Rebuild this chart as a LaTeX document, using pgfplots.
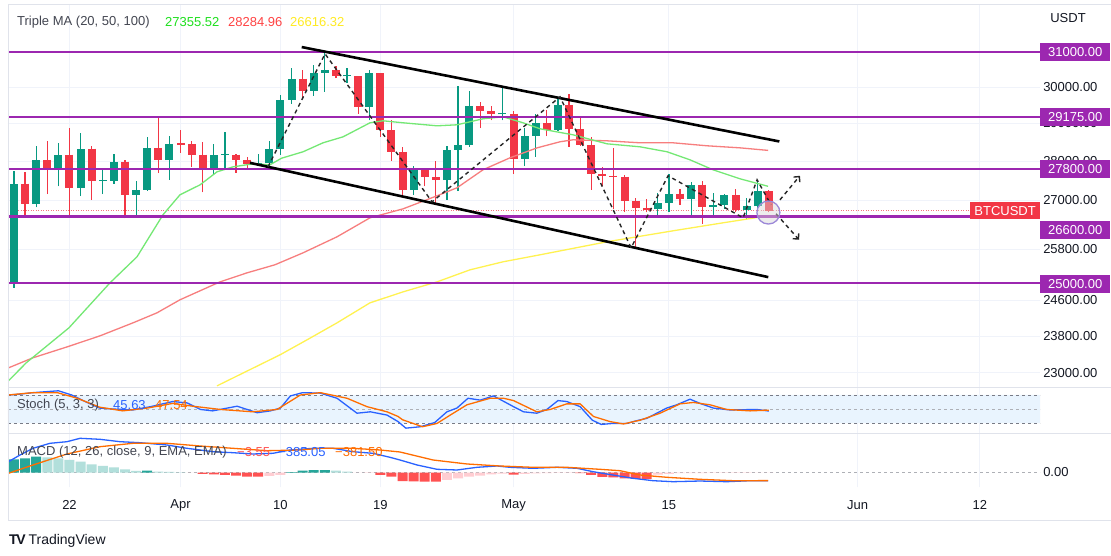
\documentclass[border=0pt]{standalone}
\usepackage{fontspec}
\setmainfont{Liberation Sans}
\usepackage{pgfplots}
\usepackage{pgfplotstable}
\pgfplotsset{compat=1.18}
\usetikzlibrary{arrows.meta}

\definecolor{bull}{HTML}{089981}
\definecolor{bear}{HTML}{F23645}
\definecolor{lvl}{HTML}{9C27B0}
\definecolor{gridc}{HTML}{F0F3FA}
\definecolor{framec}{HTML}{E0E3EB}
\definecolor{tickc}{HTML}{131722}
\definecolor{titlec}{HTML}{434651}
\definecolor{maG}{HTML}{74E874}
\definecolor{maR}{HTML}{F77E7E}
\definecolor{maY}{HTML}{FFF250}
\definecolor{txG}{HTML}{1EE01E}
\definecolor{txR}{HTML}{FF4343}
\definecolor{txY}{HTML}{FFEB22}
\definecolor{stK}{HTML}{2962FF}
\definecolor{stD}{HTML}{FF6D00}
\definecolor{band}{HTML}{2196F3}
\definecolor{dashc}{HTML}{787B86}
\definecolor{hG}{HTML}{26A69A}
\definecolor{hGl}{HTML}{B2DFDB}
\definecolor{hR}{HTML}{FF5252}
\definecolor{hRl}{HTML}{FFCDD2}
\definecolor{circc}{HTML}{9C88D8}

% daily candles, d = days from 1 Apr
\pgfplotstableread{
d o h l c
-15 25000 27756 24890 27423
-14 27423 27725 26578 26907
-13 26907 28390 26827 28037
-12 28037 28528 27156 27767
-11 27767 28472 27352 28175
-10 28175 28868 26601 27307
-9 27307 28752 27105 28333
-8 28333 28399 27021 27493
-7 27494 27818 27156 27530
-6 27494 28195 27426 27994
-5 27994 28044 26552 27139
-4 27140 27500 26631 27268
-3 27268 28650 27240 28348
-2 28348 29184 27696 28028
-1 28028 28656 27525 28465
0 28470 28819 28220 28435
1 28452 28530 27856 28172
2 28172 28500 27200 27800
3 27800 28444 27662 28168
4 28168 28775 27805 28200
5 28176 28189 27700 28044
6 28044 28099 27800 27925
7 27925 28180 27883 27960
8 27947 28530 27790 28333
9 28333 29770 28170 29653
10 29653 30550 29532 30235
11 30235 30487 29666 29892
12 29892 30620 29754 30395
13 30395 31000 29873 30486
14 30486 30595 30251 30316
15 30300 30549 30120 30336
16 30318 30319 29266 29445
17 29445 30485 29088 30390
18 30390 30410 28634 28822
19 28822 29095 28010 28245
20 28245 28374 27125 27262
21 27262 27882 27130 27817
22 27817 27822 27352 27591
23 27591 28000 26942 27514
24 27514 28399 27020 28307
25 28307 30036 27235 28423
26 28423 29888 28379 29474
27 29474 29599 28879 29340
28 29340 29474 29088 29248
29 29248 29960 29088 29285
30 29268 29337 27666 28068
31 28068 28879 27872 28669
32 28669 29266 28113 29026
33 29026 29379 28663 28838
34 28838 29677 28800 29506
35 29506 29820 28388 28848
36 28848 29138 28395 28430
37 28430 28631 27262 27668
38 27668 27840 27353 27628
39 27628 28336 26777 27590
40 27598 27638 26702 26988
41 26988 27055 25811 26805
42 26805 27030 26701 26770
43 26784 27194 26601 26930
44 26930 27664 26715 27171
45 27171 27299 26878 27034
46 27034 27465 26600 27398
47 27398 27480 26415 26832
48 26832 27183 26630 26890
49 26890 27155 26792 27130
50 27130 27280 26700 26753
51 26753 27065 26538 26851
52 26851 27495 26777 27225
53 27225 27260 26700 26740
}\ohlc

\pgfplotstableread{
d v
-15.5 22830
-13.9 23215
-10.05 23983
-6.35 25008
-3.92 25620
-1.58 26640
-0.05 27140
1.76 27394
3.29 27727
4.73 27856
6.53 27934
8.06 27908
9.1 28080
11.04 28248
12.84 28485
14.64 28644
17.07 29020
18.24 29074
20.05 29020
23.11 28939
24.91 28966
27.25 29128
29.05 29182
30.86 29020
32.39 28858
35.36 28698
38.42 28459
41.40 28379
43.83 28248
45.9 28038
47.97 27779
50.41 27547
52.93 27356
}\maTwenty

\pgfplotstableread{
d v
-15.5 23107
-13.3 23323
-10.2 23563
-7.25 23805
-4.28 24095
-2.12 24320
-0.05 24616
3.56 25031
5.99 25241
8.5 25430
11.04 25715
14.1 26101
17.07 26566
20.05 26789
23.11 27115
24.91 27318
27.25 27779
29.68 28091
32.12 28353
34.19 28512
35.36 28565
38.42 28538
41.40 28485
44.37 28485
47.43 28406
50.41 28353
52.93 28285
}\maFifty

\pgfplotstableread{
d v
3.29 22724
8.96 23388
11.4 23717
14.1 24095
17.07 24547
20.05 24799
23.11 25031
26.08 25312
29.05 25501
32.39 25668
38.42 25980
44.37 26247
48.87 26443
52.93 26616
}\maHundred

\pgfplotstableread{
d v
-15.5 80
-14.4 82
-13.3 85
-11.0 89
-9.8 80
-8.6 66
-7.3 52
-6.1 50
-4.3 48
-2.7 55
-0.7 66
0.6 63
1.8 49
2.9 46
5.1 56
6.9 42
8.1 46
9.0 52
9.9 78
11.0 85
12.6 84
14.1 73
15.9 41
17.1 44
18.6 37
19.6 23
20.3 9
21.6 12
22.9 21
24.0 44
24.9 52
25.9 73
27.0 69
28.2 78
30.0 55
30.9 44
32.1 41
33.0 49
34.0 68
34.8 66
36.0 55
37.1 26
37.9 17
38.9 19
40.2 19
41.1 25
42.0 30
43.8 52
44.7 59
45.9 71
46.8 62
48.0 52
49.5 48
51.9 49
53.0 45.63
}\stochK

\pgfplotstableread{
d v
-15.5 80
-13.3 85
-11.1 85
-9.3 73
-7.3 54
-5.2 46
-3.0 52
-0.7 62
1.1 56
3.6 49
6.5 44
8.7 49
10.8 80
12.6 85
15.0 73
16.8 55
18.6 44
19.6 34
20.0 27
21.8 12
23.1 19
24.3 37
25.8 59
27.9 73
29.1 73
30.0 68
32.1 44
33.3 49
34.8 61
36.0 61
37.2 34
38.7 23
39.9 18
41.4 26
43.2 41
45.0 61
46.2 64
47.7 59
49.2 49
51.3 46
53.0 47.54
}\stochD

\pgfplotstableread{
d v
-15.5 508
-14.46 822
-13.29 1137
-11.76 1372
-10.23 1448
-9.05 1607
-7.25 1560
-5.45 1448
-3.65 1401
-1.22 1293
0.59 1137
2.93 978
4.73 931
6.53 870
8.33 902
9.86 1058
11.94 1137
13.74 1137
15.54 978
17.34 902
18.87 714
19.77 588
21.31 353
23.11 150
24.91 118
26.71 244
28.51 306
29.68 244
31.76 197
33.92 244
35.72 197
37.16 38
38.96 -118
40.77 -273
42.57 -385
44.37 -432
46.80 -400
49.23 -432
51.31 -385
52.93 -385
}\macdLine

\pgfplotstableread{
d v
-15.5 -38
-13.29 353
-10.23 870
-7.25 1213
-4.28 1372
-1.22 1372
1.76 1246
4.73 1137
7.79 1025
10.77 1058
12.57 1137
15.54 1137
17.97 1058
19.77 964
22.75 588
25.81 400
28.78 306
31.76 244
34.82 244
37.79 150
39.59 85
41.40 -118
43.83 -226
46.80 -320
49.77 -385
52.93 -382
}\macdSignal

\begin{document}
\begin{tikzpicture}[font=\fontsize{13}{15}\selectfont]
\useasboundingbox (0,0) rectangle (1111pt,-556pt);
\fill[white] (0,0) rectangle (1111pt,-556pt);

\pgfplotsset{
  panel/.style={
    scale only axis, width=1032pt, xmin=-15.54, xmax=77.43,
    anchor=north west,
    axis line style={draw=none}, major tick length=0pt, tick style={draw=none},
    xtick={-10,0,9,18,30,44,61,72},
    xmajorgrids, grid style={draw=gridc, line width=1pt},
    yticklabel pos=right,
    yticklabel style={anchor=west, inner sep=0pt, xshift=3pt, text=tickc},
    xticklabel style={anchor=center, yshift=-18pt, text=tickc},
  },
}

% ---- price panel
\begin{axis}[panel, at={(8pt,-5pt)}, height=382pt,
  ymode=log, ymin=22703, ymax=32384,
  ytick={23000,23800,24600,25800,27000,28000,29000,30000},
  yticklabels={23000.00,23800.00,24600.00,25800.00,27000.00,28000.00,29000.00,30000.00},
  ymajorgrids, xticklabels={}]

\addplot[bear!70, line width=0.8pt, dash pattern=on 1pt off 1.5pt] coordinates {(-15.54,26740)(77.43,26740)};

\pgfplotsinvokeforeach{0,...,68}{%
  \pgfplotstablegetelem{#1}{d}\of\ohlc \edef\cd{\pgfplotsretval}%
  \pgfplotstablegetelem{#1}{o}\of\ohlc \edef\co{\pgfplotsretval}%
  \pgfplotstablegetelem{#1}{h}\of\ohlc \edef\ch{\pgfplotsretval}%
  \pgfplotstablegetelem{#1}{l}\of\ohlc \edef\cl{\pgfplotsretval}%
  \pgfplotstablegetelem{#1}{c}\of\ohlc \edef\cc{\pgfplotsretval}%
  \ifnum\cc<\co \def\col{bear}\else\def\col{bull}\fi
  \edef\tmp{%
    \noexpand\addplot[draw=\col, line width=1.2pt, forget plot] coordinates {(\cd,\cl) (\cd,\ch)};
    \noexpand\addplot[draw=\col, line width=8pt, forget plot] coordinates {(\cd,\co) (\cd,\cc)};
  }\tmp
}

\addplot[maY, line width=1.3pt] table[x=d, y=v] {\maHundred};
\addplot[maR, line width=1.3pt] table[x=d, y=v] {\maFifty};
\addplot[maG, line width=1.3pt] table[x=d, y=v] {\maTwenty};

% horizontal levels
\addplot[lvl, line width=2.6pt] coordinates {(-15.54,31000)(77.43,31000)};
\addplot[lvl, line width=2.6pt] coordinates {(-15.54,29175)(77.43,29175)};
\addplot[lvl, line width=2.6pt] coordinates {(-15.54,27800)(77.43,27800)};
\addplot[lvl, line width=2.6pt] coordinates {(-15.54,26600)(77.43,26600)};
\addplot[lvl, line width=2.6pt] coordinates {(-15.54,25000)(77.43,25000)};

% falling channel
\addplot[black, line width=2.6pt] coordinates {(10.92,31136)(53.95,28520)};
\addplot[black, line width=2.6pt] coordinates {(6.26,27960)(52.95,25140)};

% swing path
\addplot[black!85, line width=1.4pt, dash pattern=on 4pt off 3.5pt] coordinates {
  (7.88,27856)(13.02,30943)(22.66,26964)(34.19,29729)(40.59,25835)
  (43.92,27624)(50.68,26566)(51.94,27522)(53.2,26889)};
\addplot[black!85, line width=1.4pt, dash pattern=on 4pt off 3.5pt,
  -{Straight Barb[length=4pt,width=8pt]}] coordinates {(54.0,27014)(55.8,27624)};
\addplot[black!85, line width=1.4pt, dash pattern=on 4pt off 3.5pt,
  -{Straight Barb[length=4pt,width=8pt]}] coordinates {(53.65,26665)(55.72,26029)};

\draw[circc, line width=1.3pt, fill=gray!30, fill opacity=0.45] (axis cs:52.96,26697) circle[radius=11.5pt];
\end{axis}

% ---- stochastic panel
\begin{axis}[panel, at={(8pt,-387pt)}, height=46pt, ymin=-1.4, ymax=97.1,
  ytick=\empty, xticklabels={}]
\addplot[draw=none, fill=band!10] coordinates {(-15.54,20)(77.43,20)(77.43,80)(-15.54,80)} \closedcycle;
\addplot[dashc, line width=0.8pt, dash pattern=on 3pt off 3pt] coordinates {(-15.54,80)(77.43,80)};
\addplot[dashc!60, line width=0.8pt, dash pattern=on 3pt off 3pt] coordinates {(-15.54,50)(77.43,50)};
\addplot[dashc, line width=0.8pt, dash pattern=on 3pt off 3pt] coordinates {(-15.54,20)(77.43,20)};
\addplot[stK, line width=1.3pt] table[x=d, y=v] {\stochK};
\addplot[stD, line width=1.3pt] table[x=d, y=v] {\stochD};
\end{axis}

% ---- MACD panel
\begin{axis}[panel, at={(8pt,-433pt)}, height=54pt, ymin=-681.5, ymax=1856.5,
  ytick={0}, yticklabels={0.00},
  xticklabels={22,Apr,10,19,May,15,Jun,12}]
\addplot[dashc!60, line width=0.8pt, dash pattern=on 3pt off 3pt] coordinates {(-15.54,0)(77.43,0)};
\addplot[ybar, bar width=10pt, bar shift=0pt, fill=hG, draw=none] coordinates {
  (-15,620)(-14,667)(-13,743)(-3,85)(10,20)(11,85)(12,117)(13,117)};
\addplot[ybar, bar width=10pt, bar shift=0pt, fill=hGl, draw=none] coordinates {
  (-12,714)(-11,667)(-10,588)(-9,508)(-8,385)(-7,306)(-6,244)(-5,150)(-4,80)
  (-2,38)(-1,24)(0,10)(14,85)(15,40)};
\addplot[ybar, bar width=10pt, bar shift=0pt, fill=hRl, draw=none] coordinates {
  (1,-10)(8,-164)(9,-117)(16,-10)(17,-20)(24,-350)(25,-275)(26,-195)(27,-150)
  (28,-85)(29,-50)(31,-60)(32,-40)(33,-25)(34,-15)(35,-15)(43,-100)(44,-60)
  (45,-25)(46,-25)(47,-25)(48,-15)(49,-15)(50,-15)(51,-15)(52,-10)(53,-5)};
\addplot[ybar, bar width=10pt, bar shift=0pt, fill=hR, draw=none] coordinates {
  (2,-70)(3,-85)(4,-117)(5,-150)(6,-197)(7,-197)(18,-117)(19,-197)(20,-400)
  (21,-420)(22,-430)(23,-430)(30,-100)(36,-25)(37,-117)(38,-200)(39,-230)
  (40,-275)(41,-300)(42,-300)};
\addplot[stK, line width=1.3pt] table[x=d, y=v] {\macdLine};
\addplot[stD, line width=1.3pt] table[x=d, y=v] {\macdSignal};
\end{axis}

% frame and separators
\draw[framec, line width=1pt] (8pt,-5pt) rectangle (1111pt,-520pt);
\draw[framec, line width=1pt] (8pt,-387pt) -- (1111pt,-387pt);
\draw[framec, line width=1pt] (8pt,-433pt) -- (1111pt,-433pt);

% legends
\node[anchor=west, text=titlec, inner sep=0pt] at (17pt,-22pt) {Triple MA (20, 50, 100)};
\node[anchor=west, text=txG, inner sep=0pt] at (165pt,-22pt) {27355.52};
\node[anchor=west, text=txR, inner sep=0pt] at (228pt,-22pt) {28284.96};
\node[anchor=west, text=txY, inner sep=0pt] at (290pt,-22pt) {26616.32};

\node[anchor=west, text=titlec, inner sep=0pt] at (17pt,-405pt) {Stoch (5, 3, 3)};
\node[anchor=west, text=stK, inner sep=0pt] at (113pt,-405pt) {45.63};
\node[anchor=west, text=stD, inner sep=0pt] at (155pt,-405pt) {47.54};

\node[anchor=west, text=titlec, inner sep=0pt] at (17pt,-452pt) {MACD (12, 26, close, 9, EMA, EMA)};
\node[anchor=west, text=hR, inner sep=0pt] at (237pt,-452pt) {−3.55};
\node[anchor=west, text=stK, inner sep=0pt] at (278pt,-452pt) {−385.05};
\node[anchor=west, text=stD, inner sep=0pt] at (335pt,-452pt) {−381.50};

% price scale labels
\node[text=tickc] at (1068pt,-18pt) {USDT};
\foreach \yy/\tt in {52/31000.00, 117/29175.00, 169/27800.00, 230/26600.00, 284/25000.00}
  \node[anchor=west, fill=lvl, text=white, minimum width=70pt, minimum height=18pt, inner sep=0pt]
    at (1040pt,-\yy pt) {\tt};
\node[anchor=east, fill=bear, text=white, minimum height=17pt, inner xsep=4pt, inner ysep=0pt]
  at (1040pt,-211pt) {BTCUSDT};

% brand
\node[anchor=west, inner sep=0pt, text=tickc] at (9pt,-541pt)
  {{\fontsize{14}{16}\selectfont\bfseries T\kern-1.5pt V}\kern3pt{\fontsize{14}{16}\selectfont TradingView}};
\end{tikzpicture}
\end{document}
